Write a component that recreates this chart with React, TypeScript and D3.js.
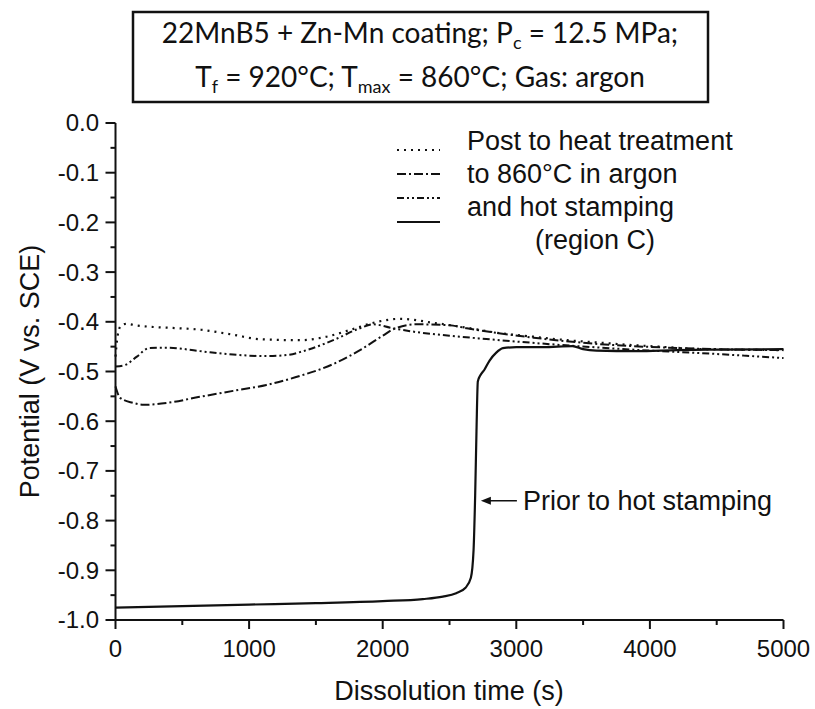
import React from "react";
import * as d3 from "d3";

// ---- data ----
const dottedT = [0, 15, 40, 80, 150, 260, 400, 640, 880, 1080, 1380, 1580, 1760, 1960, 2130, 2380, 2630, 2880, 3130, 3380, 3630, 3880, 4130, 4380, 4630, 5000];
const dottedV = [-0.47, -0.43, -0.408, -0.404, -0.407, -0.41, -0.412, -0.416, -0.426, -0.435, -0.437, -0.43, -0.416, -0.4, -0.394, -0.402, -0.412, -0.423, -0.43, -0.437, -0.442, -0.447, -0.451, -0.455, -0.456, -0.457];

const dashDotDotT = [0, 70, 160, 250, 390, 630, 880, 1130, 1280, 1430, 1630, 1830, 1930, 2060, 2260, 2500, 2880, 3250, 3630, 4000, 4380, 4700, 5000];
const dashDotDotV = [-0.49, -0.487, -0.47, -0.453, -0.452, -0.459, -0.466, -0.469, -0.467, -0.457, -0.437, -0.413, -0.405, -0.412, -0.421, -0.428, -0.437, -0.445, -0.452, -0.458, -0.463, -0.468, -0.473];

const dashDotT = [0, 35, 130, 210, 390, 630, 880, 1130, 1380, 1630, 1830, 2000, 2080, 2250, 2500, 2630, 3130, 3630, 4130, 4500, 5000];
const dashDotV = [-0.53, -0.553, -0.563, -0.567, -0.563, -0.551, -0.539, -0.527, -0.509, -0.485, -0.457, -0.428, -0.415, -0.405, -0.407, -0.413, -0.432, -0.445, -0.452, -0.455, -0.457];

const solidT = [0, 500, 1000, 1500, 2000, 2300, 2450, 2550, 2620, 2660, 2680, 2692, 2702, 2712, 2730, 2760, 2800, 2850, 2900, 3000, 3200, 3420, 3500, 3600, 3900, 4200, 4500, 5000];
const solidV = [-0.975, -0.972, -0.969, -0.966, -0.962, -0.958, -0.953, -0.946, -0.935, -0.915, -0.86, -0.75, -0.62, -0.52, -0.508, -0.497, -0.478, -0.462, -0.453, -0.451, -0.451, -0.449, -0.455, -0.458, -0.459, -0.457, -0.456, -0.455];

const xTicks = [0, 1000, 2000, 3000, 4000, 5000];
const xMinorTicks = [500, 1500, 2500, 3500, 4500];
const yTicks = [0, -0.1, -0.2, -0.3, -0.4, -0.5, -0.6, -0.7, -0.8, -0.9, -1.0];
const yMinorTicks = [-0.05, -0.15, -0.25, -0.35, -0.45, -0.55, -0.65, -0.75, -0.85, -0.95];

const legendLines = ["Post to heat treatment", "to 860°C in argon", "and hot stamping", "(region C)"];
const arrowLabel = "Prior to hot stamping";
const arrowTip = { t: 2735, v: -0.76 };

const W = 815;
const H = 709;
const left = 115.5;
const right = 783.5;
const top = 123;
const bottom = 620;

export default function App() {
  const x = d3.scaleLinear().domain([0, 5000]).range([left, right]);
  const y = d3.scaleLinear().domain([0, -1]).range([top, bottom]);
  const line = d3
    .line<[number, number]>()
    .x((d) => x(d[0]))
    .y((d) => y(d[1]))
    .curve(d3.curveMonotoneX);
  const zip = (a: number[], b: number[]) => a.map((t, i) => [t, b[i]] as [number, number]);

  const series = [
    { d: zip(dottedT, dottedV), dash: "2,5", w: 2.2 },
    { d: zip(dashDotT, dashDotV), dash: "9,3,2,3", w: 2 },
    { d: zip(dashDotDotT, dashDotDotV), dash: "7,3,2,3,2,3", w: 2 },
    { d: zip(solidT, solidV), dash: undefined as string | undefined, w: 2.2 },
  ];
  const legendDash = ["2,5", "9,3,2,3", "7,3,2,3,2,3", undefined];

  const axisFont = "Arial, 'Liberation Sans', sans-serif";
  const ax = x(arrowTip.t);
  const ay = y(arrowTip.v);

  return (
    <svg
      width={W}
      height={H}
      style={{ position: "absolute", left: 0, top: 0, background: "#fff" }}
    >
      <rect x={0} y={0} width={W} height={H} fill="#fff" />
      {/* Title box */}
      <rect x={133} y={12} width={575} height={90} fill="none" stroke="#111" strokeWidth={2.5} />
      <text x={420} y={43} textAnchor="middle" fontFamily="Lato, 'Open Sans', sans-serif" fontSize={28} fill="#111">
        22MnB5 + Zn-Mn coating; P<tspan fontSize={18} dy={6}>c</tspan>
        <tspan dy={-6}> = 12.5 MPa;</tspan>
      </text>
      <text x={420} y={87} textAnchor="middle" fontFamily="Lato, 'Open Sans', sans-serif" fontSize={28} fill="#111">
        T<tspan fontSize={18} dy={6}>f</tspan>
        <tspan dy={-6}> = 920°C; T</tspan>
        <tspan fontSize={18} dy={6}>max</tspan>
        <tspan dy={-6}> = 860°C; Gas: argon</tspan>
      </text>

      {/* series */}
      {series.map((s, i) => (
        <path key={i} d={line(s.d) || ""} fill="none" stroke="#111" strokeWidth={s.w} strokeDasharray={s.dash} />
      ))}

      {/* axes */}
      <line x1={left} x2={left} y1={top} y2={bottom} stroke="#111" strokeWidth={2} />
      <line x1={left} x2={right} y1={bottom} y2={bottom} stroke="#111" strokeWidth={2} />
      {xTicks.map((t) => (
        <g key={"xt" + t}>
          <line x1={x(t)} x2={x(t)} y1={bottom} y2={bottom + 9} stroke="#111" strokeWidth={2} />
          <text x={x(t)} y={657} textAnchor="middle" fontFamily={axisFont} fontSize={24} fill="#111">
            {t}
          </text>
        </g>
      ))}
      {xMinorTicks.map((t) => (
        <line key={"xm" + t} x1={x(t)} x2={x(t)} y1={bottom} y2={bottom + 5} stroke="#111" strokeWidth={2} />
      ))}
      {yTicks.map((v) => (
        <g key={"yt" + v}>
          <line x1={left - 10} x2={left} y1={y(v)} y2={y(v)} stroke="#111" strokeWidth={2} />
          <text x={99} y={y(v)} dy="0.35em" textAnchor="end" fontFamily={axisFont} fontSize={24} fill="#111">
            {v.toFixed(1)}
          </text>
        </g>
      ))}
      {yMinorTicks.map((v) => (
        <line key={"ym" + v} x1={left - 5} x2={left} y1={y(v)} y2={y(v)} stroke="#111" strokeWidth={2} />
      ))}
      <text x={449} y={700} textAnchor="middle" fontFamily={axisFont} fontSize={27} fill="#111">
        Dissolution time (s)
      </text>
      <text
        transform={`translate(30, ${(top + bottom) / 2}) rotate(-90)`}
        dy="0.35em"
        textAnchor="middle"
        fontFamily={axisFont}
        fontSize={27}
        fill="#111"
      >
        Potential (V vs. SCE)
      </text>

      {/* legend */}
      {legendDash.map((dash, i) => (
        <line key={"ls" + i} x1={397} x2={440} y1={150 + i * 24} y2={150 + i * 24} stroke="#111" strokeWidth={2} strokeDasharray={dash} />
      ))}
      {legendLines.map((s, i) => (
        <text key={"lt" + i} x={i === 3 ? 535 : 467} y={150 + i * 33} fontFamily={axisFont} fontSize={27} fill="#111">
          {s}
        </text>
      ))}

      {/* arrow annotation */}
      <line x1={ax + 4} x2={ax + 36} y1={ay} y2={ay} stroke="#111" strokeWidth={1.5} />
      <path d={`M${ax},${ay} L${ax + 10},${ay - 4} L${ax + 10},${ay + 4} Z`} fill="#111" />
      <text x={ax + 42} y={ay} dy="0.35em" fontFamily={axisFont} fontSize={27} fill="#111">
        {arrowLabel}
      </text>
    </svg>
  );
}
